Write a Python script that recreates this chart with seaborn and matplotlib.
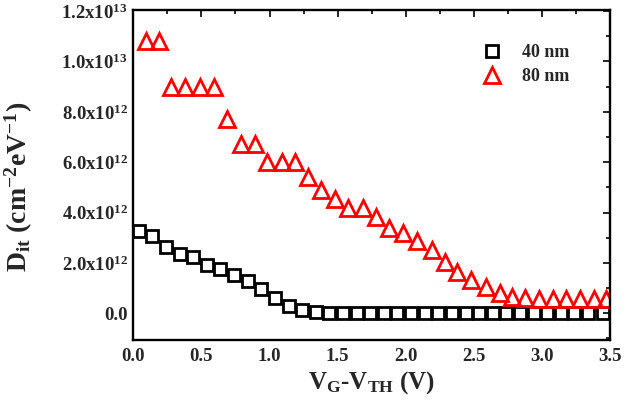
import seaborn as sns
import matplotlib.pyplot as plt
import numpy as np
import pandas as pd
from matplotlib.ticker import MultipleLocator

# donnees
x_40 = [0.04, 0.14, 0.24, 0.34, 0.44, 0.54, 0.64, 0.74, 0.84, 0.94,
        1.04, 1.14, 1.24, 1.34, 1.44, 1.54, 1.64, 1.74, 1.84, 1.94,
        2.04, 2.14, 2.24, 2.34, 2.44, 2.54, 2.64, 2.74, 2.84, 2.94,
        3.04, 3.14, 3.24, 3.34, 3.45]
dit_40 = [3.28, 3.05, 2.65, 2.36, 2.23, 1.92, 1.75, 1.52, 1.26, 0.95,
          0.60, 0.29, 0.13, 0.04, 0.0, 0.0, 0.0, 0.0, 0.0, 0.0,
          0.0, 0.0, 0.0, 0.0, 0.0, 0.0, 0.0, 0.0, 0.0, 0.0,
          0.0, 0.0, 0.0, 0.0, 0.0]
x_80 = [0.09, 0.19, 0.28, 0.38, 0.49, 0.59, 0.69, 0.79, 0.89, 0.98,
        1.09, 1.19, 1.28, 1.38, 1.48, 1.58, 1.69, 1.78, 1.88, 1.98,
        2.08, 2.19, 2.29, 2.38, 2.48, 2.59, 2.69, 2.78, 2.88, 2.98,
        3.08, 3.18, 3.28, 3.38, 3.47]
dit_80 = [10.80, 10.80, 8.98, 8.98, 8.98, 8.98, 7.72, 6.73, 6.73, 5.99,
          5.99, 5.99, 5.43, 4.90, 4.53, 4.17, 4.17, 3.84, 3.38, 3.18,
          2.85, 2.52, 2.05, 1.65, 1.32, 1.06, 0.79, 0.66, 0.60, 0.56,
          0.56, 0.56, 0.56, 0.56, 0.56]

ytick_vals = [0, 2e12, 4e12, 6e12, 8e12, 1e13, 1.2e13]
ytick_labels = ['0.0', r'2.0x10$^{12}$', r'4.0x10$^{12}$', r'6.0x10$^{12}$',
                r'8.0x10$^{12}$', r'1.0x10$^{13}$', r'1.2x10$^{13}$']
xtick_vals = [0.0, 0.5, 1.0, 1.5, 2.0, 2.5, 3.0, 3.5]

df40 = pd.DataFrame({'V': x_40, 'Dit': np.array(dit_40) * 1e12})
df80 = pd.DataFrame({'V': x_80, 'Dit': np.array(dit_80) * 1e12})

sns.set_style("white")
plt.rcParams['font.family'] = ['Liberation Serif', 'DejaVu Serif']
plt.rcParams['font.weight'] = 'bold'
plt.rcParams['mathtext.fontset'] = 'custom'
plt.rcParams['mathtext.rm'] = 'Liberation Serif:bold'
plt.rcParams['mathtext.it'] = 'Liberation Serif:bold'
plt.rcParams['mathtext.bf'] = 'Liberation Serif:bold'

fig = plt.figure(figsize=(6.32, 4.11), dpi=100)
ax = fig.add_axes([0.211, 0.173, 0.754, 0.803])

sns.lineplot(data=df40, x='V', y='Dit', ax=ax, estimator=None, linestyle='',
             marker='s', markersize=8.5, markerfacecolor='none',
             markeredgecolor='black', markeredgewidth=2.0, color='black',
             label='40 nm')
sns.lineplot(data=df80, x='V', y='Dit', ax=ax, estimator=None, linestyle='',
             marker='^', markersize=11.5, markerfacecolor='none',
             markeredgecolor='red', markeredgewidth=2.0, color='red',
             label='80 nm')

ax.set_xlim(0, 3.5)
ax.set_ylim(-1.06e12, 1.205e13)
ax.set_xticks(xtick_vals, [f'{v:.1f}' for v in xtick_vals])
ax.set_yticks(ytick_vals, ytick_labels)
ax.xaxis.set_minor_locator(MultipleLocator(0.25))
ax.yaxis.set_minor_locator(MultipleLocator(1e12))
ax.tick_params(which='both', direction='in', top=True, right=True,
               labelsize=13.5, width=1.4)
ax.tick_params(axis='x', pad=6)
ax.tick_params(axis='y', pad=4)
ax.tick_params(which='major', length=5)
ax.tick_params(which='minor', length=3)
for s in ax.spines.values():
    s.set_linewidth(1.7)
    s.set_color('black')

ax.set_xlabel(r'V$_{\mathrm{G}}$-V$_{\mathrm{TH}}$ (V)', fontsize=18, fontweight='bold',
              labelpad=3)
ax.set_ylabel(r'D$_{\mathrm{it}}$ (cm$^{-2}$eV$^{-1}$)', fontsize=20, fontweight='bold')
ax.yaxis.set_label_coords(-0.207, 0.464)

leg = ax.legend(loc='upper left', bbox_to_anchor=(0.73, 0.897), frameon=False,
                fontsize=13, handletextpad=1.05, borderaxespad=0, borderpad=0,
                labelspacing=0.4, handlelength=1.2)

plt.savefig("out.png", dpi=100)
